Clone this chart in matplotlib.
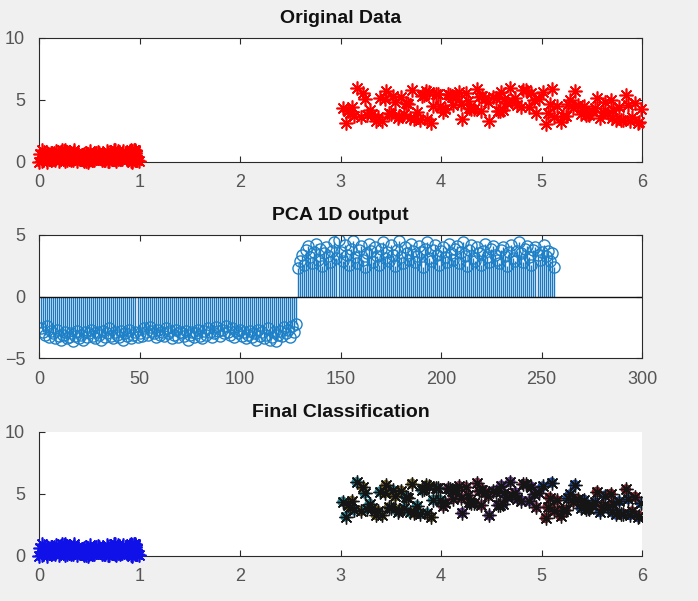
import matplotlib.pyplot as plt

# Кластер 1 (x, y в [0, 1])
x1 = [0.81, 0.91, 0.13, 0.91, 0.63, 0.10, 0.28, 0.55,
      0.96, 0.96, 0.16, 0.97, 0.96, 0.49, 0.80, 0.14,
      0.42, 0.92, 0.79, 0.96, 0.66, 0.04, 0.85, 0.93,
      0.68, 0.76, 0.74, 0.39, 0.66, 0.17, 0.71, 0.03,
      0.28, 0.05, 0.10, 0.82, 0.69, 0.32, 0.95, 0.03,
      0.44, 0.38, 0.77, 0.80, 0.19, 0.49, 0.45, 0.65,
      0.71, 0.75, 0.28, 0.68, 0.66, 0.16, 0.12, 0.50,
      0.96, 0.34, 0.59, 0.22, 0.75, 0.26, 0.51, 0.70,
      0.89, 0.96, 0.55, 0.14, 0.15, 0.26, 0.84, 0.25,
      0.81, 0.24, 0.93, 0.35, 0.20, 0.25, 0.62, 0.47,
      0.35, 0.83, 0.59, 0.55, 0.92, 0.29, 0.76, 0.75,
      0.38, 0.57, 0.08, 0.05, 0.53, 0.78, 0.93, 0.13,
      0.57, 0.47, 0.01, 0.34, 0.16, 0.79, 0.31, 0.53,
      0.17, 0.60, 0.26, 0.65, 0.69, 0.75, 0.45, 0.08,
      0.23, 0.91, 0.15, 0.83, 0.54, 0.99, 0.08, 0.44,
      0.11, 0.96, 0.00, 0.77, 0.82, 0.87, 0.08, 0.40]
y1 = [0.26, 0.80, 0.43, 0.91, 0.18, 0.26, 0.15, 0.14,
      0.87, 0.58, 0.55, 0.15, 0.86, 0.62, 0.35, 0.51,
      0.40, 0.08, 0.24, 0.12, 0.18, 0.24, 0.42, 0.05,
      0.90, 0.94, 0.49, 0.49, 0.34, 0.90, 0.37, 0.11,
      0.78, 0.39, 0.24, 0.40, 0.10, 0.13, 0.94, 0.96,
      0.58, 0.06, 0.24, 0.35, 0.82, 0.02, 0.04, 0.17,
      0.65, 0.73, 0.65, 0.45, 0.55, 0.30, 0.74, 0.19,
      0.69, 0.18, 0.37, 0.46, 0.99, 0.06, 0.89, 0.05,
      0.67, 0.32, 0.55, 0.21, 0.75, 0.66, 0.85, 0.42,
      0.20, 0.64, 0.03, 0.95, 0.05, 0.85, 0.56, 0.76,
      0.84, 0.25, 0.81, 0.24, 0.93, 0.35, 0.20, 0.25,
      0.62, 0.47, 0.35, 0.83, 0.59, 0.55, 0.92, 0.29,
      0.76, 0.08, 0.62, 0.72, 0.14, 0.91, 0.52, 0.12,
      0.31, 0.72, 0.97, 0.33, 0.71, 0.48, 0.65, 0.02,
      0.96, 0.91, 0.42, 0.36, 0.57, 0.04, 0.69, 0.60,
      0.37, 0.99, 0.03, 0.11, 0.45, 0.68, 0.44, 0.30]

# Кластер 2 (x, y в [3, 6])
x2 = [3.07, 3.52, 4.21, 5.63, 3.88, 4.95, 5.31, 3.24,
      4.48, 5.86, 3.71, 4.02, 5.12, 3.39, 4.66, 5.74,
      3.95, 4.33, 5.47, 3.16, 4.80, 5.96, 3.60, 4.12,
      5.24, 3.83, 4.57, 5.58, 3.45, 4.27, 5.04, 3.02,
      4.74, 5.39, 3.67, 4.41, 5.81, 3.29, 4.90, 5.66,
      3.54, 4.18, 5.19, 3.92, 4.63, 5.44, 3.11, 4.36,
      5.90, 3.76, 4.52, 5.28, 3.35, 4.07, 5.71, 3.63,
      4.85, 5.53, 3.20, 4.44, 5.08, 3.86, 4.69, 5.99,
      3.48, 4.25, 5.36, 3.05, 4.97, 5.77, 3.58, 4.15,
      5.15, 3.79, 4.60, 5.50, 3.31, 4.38, 5.93, 3.69,
      4.09, 5.26, 3.41, 4.82, 5.61, 3.13, 4.55, 5.42,
      3.90, 4.71, 5.84, 3.26, 4.30, 5.01, 3.73, 4.47,
      5.69, 3.57, 4.88, 5.33, 3.09, 4.20, 5.97, 3.81,
      4.62, 5.10, 3.37, 4.04, 5.55, 3.50, 4.93, 5.79,
      3.22, 4.40, 5.21, 3.97, 4.76, 5.88, 3.44, 4.28,
      5.46, 3.65, 4.11, 5.70, 3.85, 4.59, 5.06, 3.99]
y2 = [4.12, 5.31, 3.48, 4.87, 5.66, 3.92, 4.35, 5.04,
      3.27, 4.58, 5.83, 4.01, 3.66, 5.19, 4.74, 3.35,
      5.52, 4.29, 3.81, 5.95, 4.46, 3.13, 5.27, 4.63,
      3.70, 5.40, 4.15, 3.54, 5.71, 4.92, 3.06, 4.38,
      5.12, 3.88, 4.69, 5.36, 3.42, 4.21, 5.58, 3.97,
      4.80, 5.64, 3.23, 4.53, 5.05, 3.76, 4.44, 5.89,
      3.59, 4.06, 5.25, 4.96, 3.31, 5.47, 4.18, 3.84,
      5.78, 4.33, 3.62, 5.14, 4.71, 3.45, 5.99, 4.25,
      3.93, 5.55, 4.60, 3.18, 5.09, 4.40, 3.74, 5.33,
      4.49, 3.39, 5.68, 4.10, 3.86, 5.22, 4.77, 3.51,
      5.43, 4.65, 3.28, 5.80, 4.03, 3.69, 5.16, 4.55,
      3.15, 4.90, 5.37, 3.79, 4.27, 5.61, 3.46, 4.84,
      5.01, 3.57, 4.42, 5.73, 3.95, 4.67, 3.24, 5.29,
      4.19, 5.92, 3.64, 4.31, 5.18, 3.83, 4.98, 3.40,
      5.57, 4.08, 3.72, 5.45, 4.62, 3.30, 5.07, 4.36,
      3.89, 4.73, 5.24, 3.53, 5.69, 4.14, 3.98, 4.51]

# Выход PCA (1D), первые 128 -- кластер 1, следующие 128 -- кластер 2
pca_neg = [-2.6, -2.9, -3.1, -2.4, -3.3, -2.8, -3.0, -3.4, -2.7, -3.2,
           -3.5, -3.1, -2.9, -3.4, -3.3, -3.0, -3.6, -3.2, -2.8, -3.4,
           -3.1, -3.5, -2.9, -3.3, -3.0, -2.7, -3.2, -3.4, -2.9, -3.1,
           -3.5, -2.8, -3.3, -3.0, -2.6, -3.2, -3.4, -2.9, -3.1, -3.3,
           -2.8, -3.5, -3.0, -3.2, -2.7, -3.4, -3.1, -2.9, -3.3, -3.0,
           -3.2, -2.6, -2.9, -3.1, -2.5, -2.8, -3.0, -3.3, -2.7, -3.1,
           -2.9, -3.2, -2.6, -3.0, -2.8, -3.4, -3.1, -2.7, -3.3, -2.9,
           -3.0, -3.2, -2.8, -3.5, -3.1, -2.9, -3.3, -3.0, -2.7, -3.2,
           -3.4, -2.8, -3.1, -2.6, -2.9, -3.3, -3.0, -2.5, -2.8, -3.2,
           -2.7, -3.0, -2.4, -2.9, -3.1, -2.6, -3.3, -2.8, -3.0, -2.7,
           -3.2, -2.9, -3.4, -3.1, -2.8, -3.3, -3.0, -3.5, -2.7, -3.2,
           -2.9, -3.4, -3.1, -2.6, -3.5, -3.3, -2.9, -3.6, -3.1, -2.8,
           -3.2, -2.5, -3.0, -2.7, -3.3, -2.4, -2.9, -2.2]
pca_pos = [2.3, 2.9, 3.4, 2.6, 3.8, 4.1, 3.2, 2.7, 3.6, 4.3,
           3.0, 3.9, 2.5, 3.5, 4.0, 3.3, 2.8, 3.7, 4.4, 3.1,
           4.6, 3.6, 2.9, 4.2, 3.4, 2.6, 3.9, 4.5, 3.2, 2.7,
           3.8, 4.1, 3.0, 2.4, 3.5, 4.3, 3.7, 2.8, 4.0, 3.3,
           2.6, 3.9, 4.4, 3.1, 3.6, 2.9, 4.2, 3.4, 2.5, 3.8,
           4.5, 3.2, 2.7, 4.0, 3.5, 3.0, 4.3, 3.7, 2.8, 3.3,
           4.1, 3.6, 2.4, 3.9, 4.4, 3.1, 2.9, 3.8, 4.2, 3.4,
           2.6, 3.7, 4.0, 3.2, 2.8, 4.3, 3.5, 3.0, 3.9, 4.1,
           2.7, 3.6, 4.4, 3.3, 2.5, 3.8, 4.2, 3.1, 2.9, 4.0,
           3.5, 2.6, 3.7, 4.3, 3.2, 2.8, 3.9, 4.1, 3.4, 3.0,
           2.7, 3.8, 4.0, 3.3, 2.5, 3.6, 4.2, 3.1, 2.9, 3.7,
           4.4, 3.5, 2.8, 3.9, 4.1, 3.2, 2.6, 3.8, 4.0, 3.4,
           3.0, 3.6, 4.2, 3.3, 3.7, 2.9, 3.5, 2.4]

titles = ['Original Data', 'PCA 1D output', 'Final Classification']

plt.rcParams['font.family'] = ['Liberation Sans', 'DejaVu Sans']

ASTERISK = (8, 2, 0)
TICK_GRAY = '#555555'
mix_colors = ['#8a1f2a', '#2c8a9a', '#6a3d9a', '#1f4faa', '#7b6a2a', '#9a3a60']

fig = plt.figure(figsize=(6.98, 6.01), dpi=100)
fig.patch.set_facecolor('#f0f0f0')

ax1 = fig.add_axes([0.0559, 0.7305, 0.8639, 0.2063])
ax2 = fig.add_axes([0.0559, 0.4043, 0.8639, 0.2047])
ax3 = fig.add_axes([0.0559, 0.0749, 0.8639, 0.2063])


def style_axes(ax, box=True):
    for s in ax.spines.values():
        s.set_color('#2a2a2a')
        s.set_linewidth(0.8)
    if not box:
        ax.spines['top'].set_visible(False)
        ax.spines['right'].set_visible(False)
    ax.tick_params(direction='in', length=4, width=0.8, color='#2a2a2a',
                   labelcolor=TICK_GRAY, labelsize=13,
                   top=box, right=box)
    ax.tick_params(axis='x', pad=9)
    ax.tick_params(axis='y', pad=10)


# Исходные данные
ax1.plot(x1, y1, ls='none', marker=ASTERISK, ms=10, mew=1.2,
         color='#ff0000', clip_on=False, zorder=3)
ax1.plot(x2, y2, ls='none', marker=ASTERISK, ms=10, mew=1.2,
         color='#ff0000', clip_on=False, zorder=3)
ax1.set_xlim(0, 6)
ax1.set_ylim(0, 10)
ax1.set_xticks(range(0, 7))
ax1.set_yticks([0, 5, 10])
style_axes(ax1)

# PCA 1D
pca = pca_neg + pca_pos
idx = list(range(1, len(pca) + 1))
ml, sl, bl = ax2.stem(idx, pca, linefmt='-', markerfmt='o', basefmt=' ')
sl.set_color('#1a78c2')
sl.set_linewidth(1.0)
ml.set_markerfacecolor('none')
ml.set_markeredgecolor('#1f82c8')
ml.set_markersize(8)
ml.set_markeredgewidth(1.0)
ax2.axhline(0, color='#111111', lw=1.0)
ax2.set_xlim(0, 300)
ax2.set_ylim(-5, 5)
ax2.set_xticks([0, 50, 100, 150, 200, 250, 300])
ax2.set_yticks([-5, 0, 5])
style_axes(ax2)

# Итоговая классификация
ax3.plot(x1, y1, ls='none', marker=ASTERISK, ms=10, mew=1.2,
         color='#1010e8', clip_on=False, zorder=3)
under = [mix_colors[i % len(mix_colors)] for i in range(len(x2))]
ax3.scatter(x2, y2, s=55, c=under, marker='o', linewidths=0, zorder=2)
ax3.plot(x2, y2, ls='none', marker=ASTERISK, ms=10, mew=1.0,
         color='#151515', zorder=3)
ax3.set_xlim(0, 6)
ax3.set_ylim(0, 10)
ax3.set_xticks(range(0, 7))
ax3.set_yticks([0, 5, 10])
style_axes(ax3, box=False)

for ax, t in zip([ax1, ax2, ax3], titles):
    ax.set_title(t, fontsize=14, fontweight='bold', color='#111111', pad=11)

fig.savefig('out.png', dpi=100, facecolor=fig.get_facecolor())
